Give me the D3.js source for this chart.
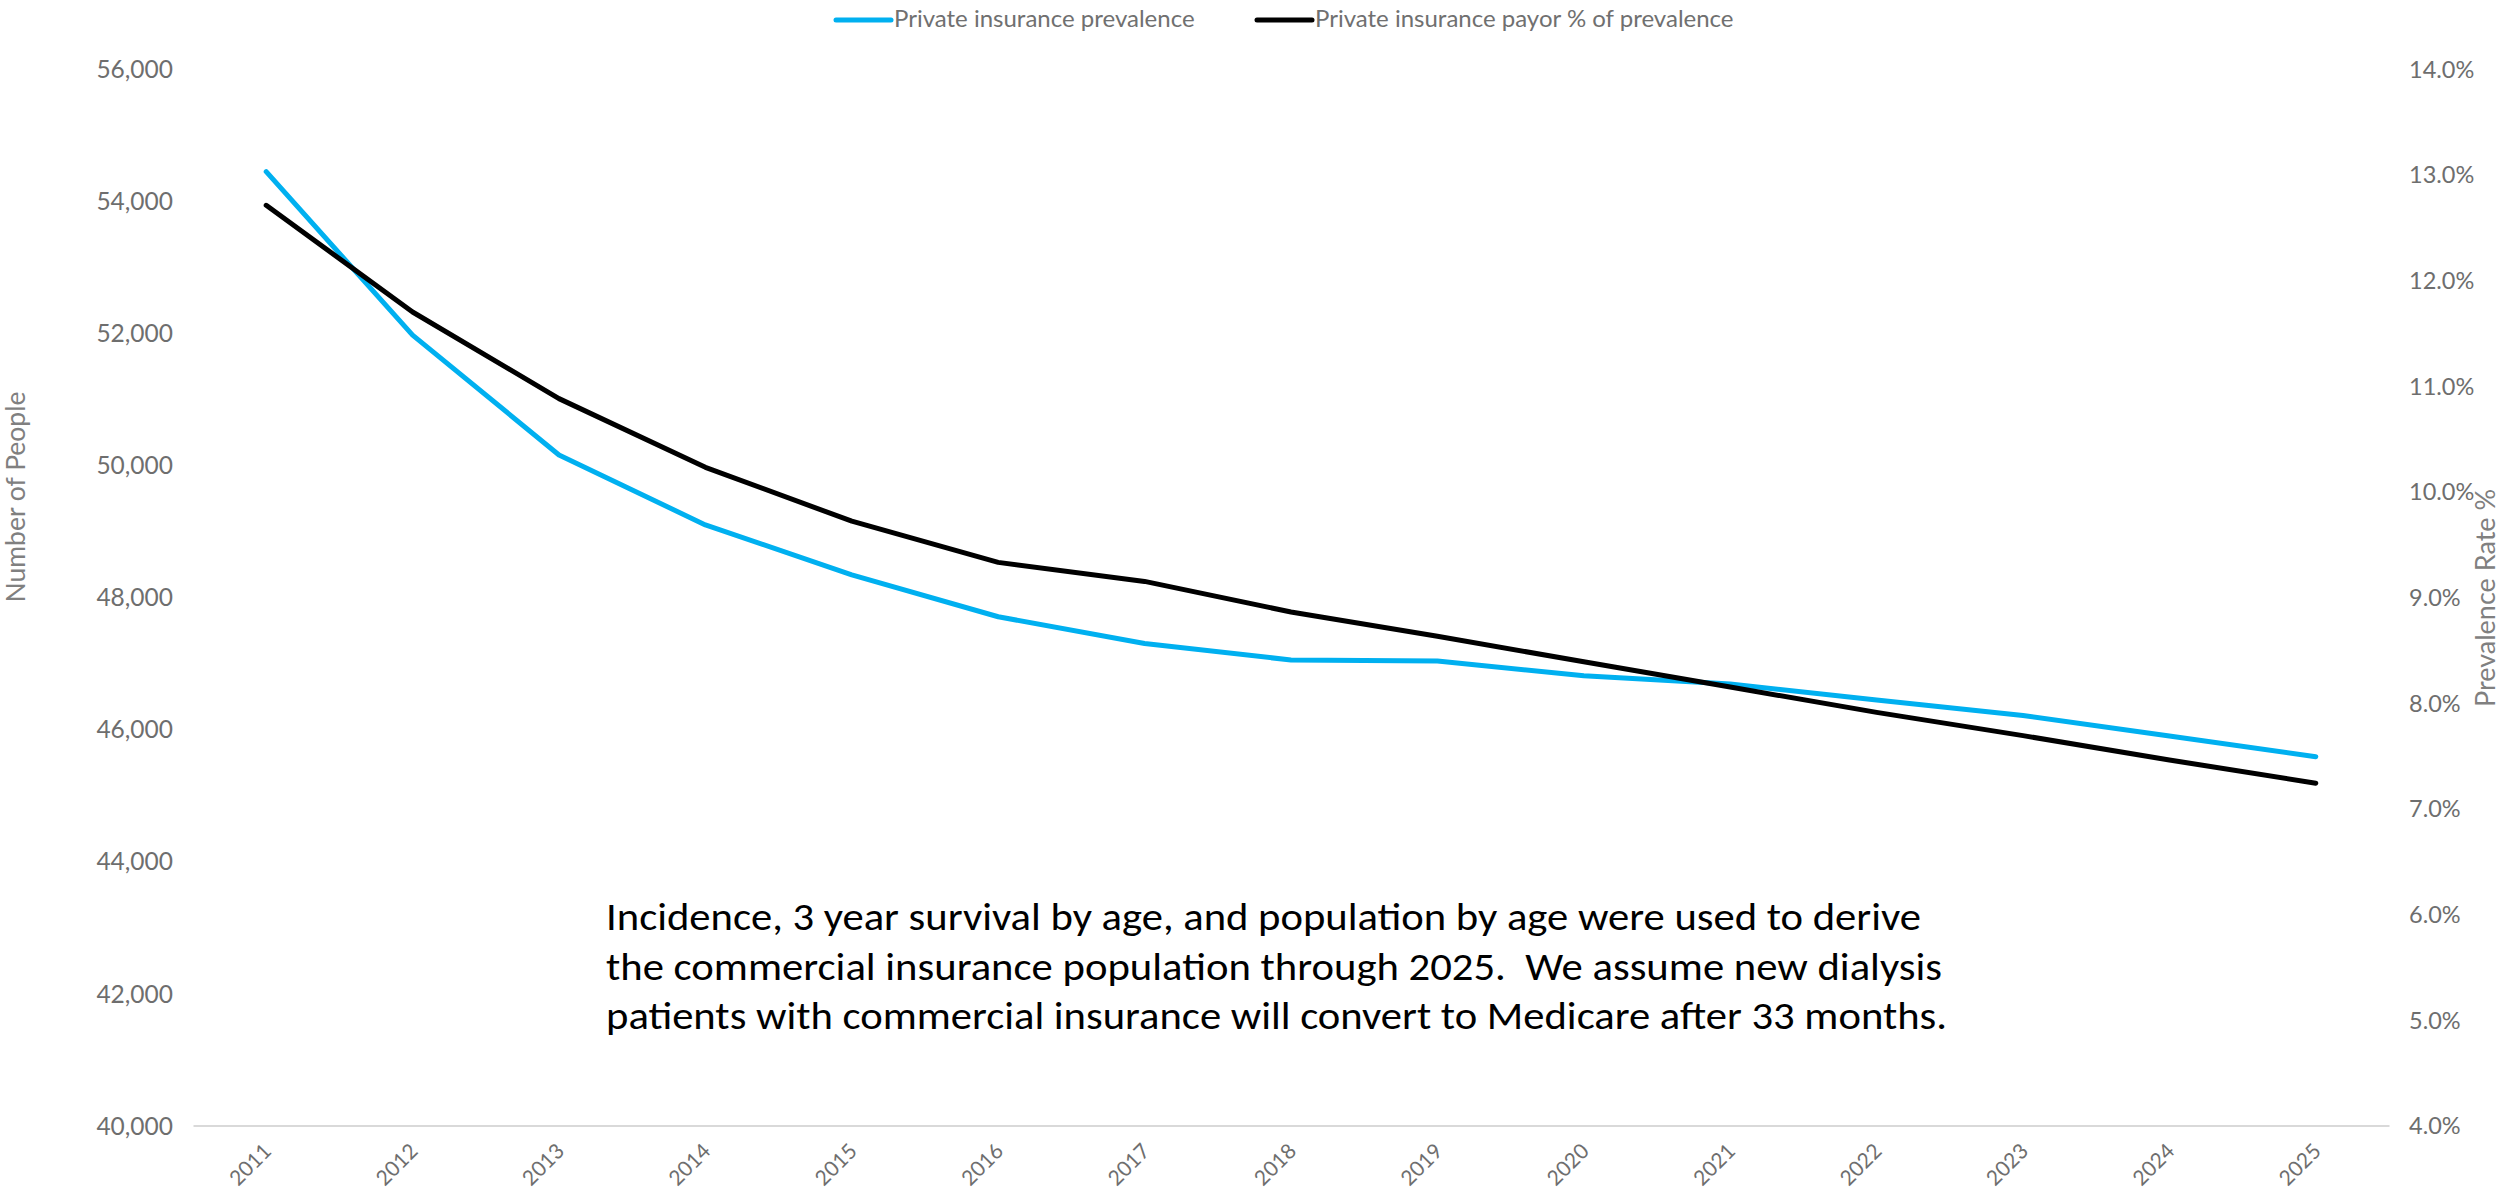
<!DOCTYPE html>
<html>
<head>
<meta charset="utf-8">
<script src="https://cdn.jsdelivr.net/npm/d3@7"></script>
<style>
  html, body { margin: 0; padding: 0; background: #ffffff; }
  svg { display: block; }
  .tick text { font-family: Lato, "Open Sans", sans-serif; fill: #6e6e6e; }
</style>
</head>
<body>
<svg id="chart" width="2514" height="1194"></svg>
<script>
// Years on the horizontal axis
const years = ["2011","2012","2013","2014","2015","2016","2017","2018","2019","2020","2021","2022","2023","2024","2025"];

// Private insurance prevalence (number of people, left axis)
const prevalence = [54445, 51970, 50155, 49095, 48340, 47705, 47300, 47050, 47035, 46810, 46685, 46445, 46210, 45900, 45585];

// Private insurance payor % of prevalence (right axis, percent)
const payorPct = [12.71, 11.70, 10.88, 10.23, 9.72, 9.33, 9.15, 8.86, 8.63, 8.39, 8.15, 7.91, 7.69, 7.46, 7.24];

// Tick values for both vertical axes
const leftTicks = [40000, 42000, 44000, 46000, 48000, 50000, 52000, 54000, 56000];
const rightTicks = [4, 5, 6, 7, 8, 9, 10, 11, 12, 13, 14];

// Series labels and colours
const seriesNames = ["Private insurance prevalence", "Private insurance payor % of prevalence"];
const seriesColors = ["#00B0F0", "#000000"];

// Explanatory note
const noteLines = [
  "Incidence, 3 year survival by age, and population by age were used to derive",
  "the commercial insurance population through 2025.  We assume new dialysis",
  "patients with commercial insurance will convert to Medicare after 33 months."
];

const svg = d3.select("#chart");
const plot = { left: 193, right: 2389, top: 69, bottom: 1125.5 };

const x = d3.scalePoint().domain(years).range([plot.left, plot.right]).padding(0.5);
const yLeft = d3.scaleLinear().domain([40000, 56000]).range([plot.bottom, plot.top]);
const yRight = d3.scaleLinear().domain([4, 14]).range([plot.bottom, plot.top]);

// Left axis
const gLeft = svg.append("g")
  .attr("transform", `translate(${plot.left},0)`)
  .call(d3.axisLeft(yLeft).tickValues(leftTicks).tickSize(0).tickPadding(20).tickFormat(d3.format(",")));
gLeft.select(".domain").remove();
gLeft.selectAll(".tick text").style("font-size", "24.5px").attr("dy", "0.35em");

// Right axis
const gRight = svg.append("g")
  .attr("transform", `translate(${plot.right},0)`)
  .call(d3.axisRight(yRight).tickValues(rightTicks).tickSize(0).tickPadding(20).tickFormat(d => d.toFixed(1) + "%"));
gRight.select(".domain").remove();
gRight.selectAll(".tick text").style("font-size", "23.5px").attr("dy", "0.35em");

// Bottom axis with baseline
const gBottom = svg.append("g")
  .attr("transform", `translate(0,${plot.bottom})`)
  .call(d3.axisBottom(x).tickSize(0).tickSizeOuter(0));
gBottom.select(".domain").attr("stroke", "#d9d9d9").attr("stroke-width", 2);
gBottom.selectAll(".tick text")
  .style("font-size", "21px")
  .attr("text-anchor", "end")
  .attr("x", 0).attr("y", 0).attr("dy", 0)
  .attr("transform", "translate(6,27) rotate(-45)");

// Axis titles
svg.append("text")
  .attr("transform", "translate(25,497) rotate(-90)")
  .attr("text-anchor", "middle")
  .style("font-family", "Lato, 'Open Sans', sans-serif")
  .style("font-size", "26.5px")
  .attr("fill", "#808080")
  .text("Number of People");

svg.append("text")
  .attr("transform", "translate(2495,598) rotate(-90)")
  .attr("text-anchor", "middle")
  .style("font-family", "Lato, 'Open Sans', sans-serif")
  .style("font-size", "27px")
  .attr("fill", "#808080")
  .text("Prevalence Rate %");

// Lines
const lineLeft = d3.line().x((d, i) => x(years[i])).y(d => yLeft(d));
const lineRight = d3.line().x((d, i) => x(years[i])).y(d => yRight(d));

svg.append("path")
  .datum(prevalence)
  .attr("d", lineLeft)
  .attr("fill", "none")
  .attr("stroke", seriesColors[0])
  .attr("stroke-width", 5)
  .attr("stroke-linecap", "round")
  .attr("stroke-linejoin", "round");

svg.append("path")
  .datum(payorPct)
  .attr("d", lineRight)
  .attr("fill", "none")
  .attr("stroke", seriesColors[1])
  .attr("stroke-width", 5)
  .attr("stroke-linecap", "round")
  .attr("stroke-linejoin", "round");

// Legend
const legendX = [836, 1257];
const legend = svg.append("g");
seriesNames.forEach((name, i) => {
  legend.append("line")
    .attr("x1", legendX[i]).attr("x2", legendX[i] + 55)
    .attr("y1", 20).attr("y2", 20)
    .attr("stroke", seriesColors[i])
    .attr("stroke-width", 5)
    .attr("stroke-linecap", "round");
  legend.append("text")
    .attr("x", legendX[i] + 58)
    .attr("y", 19)
    .attr("dy", "0.35em")
    .style("font-family", "Lato, 'Open Sans', sans-serif")
    .style("font-size", "24px")
    .attr("fill", "#707070")
    .text(name);
});

// Note text
const noteWidths = [1315, 1336, 1341];
const note = svg.append("g");
noteLines.forEach((t, i) => {
  note.append("text")
    .attr("x", 606)
    .attr("y", 930 + i * 49.5)
    .attr("textLength", noteWidths[i])
    .attr("lengthAdjust", "spacingAndGlyphs")
    .style("white-space", "pre")
    .style("font-family", "Carlito, 'Liberation Sans Narrow', 'Liberation Sans', sans-serif")
    .style("font-size", "38px")
    .attr("fill", "#000000")
    .text(t);
});
</script>
</body>
</html>
